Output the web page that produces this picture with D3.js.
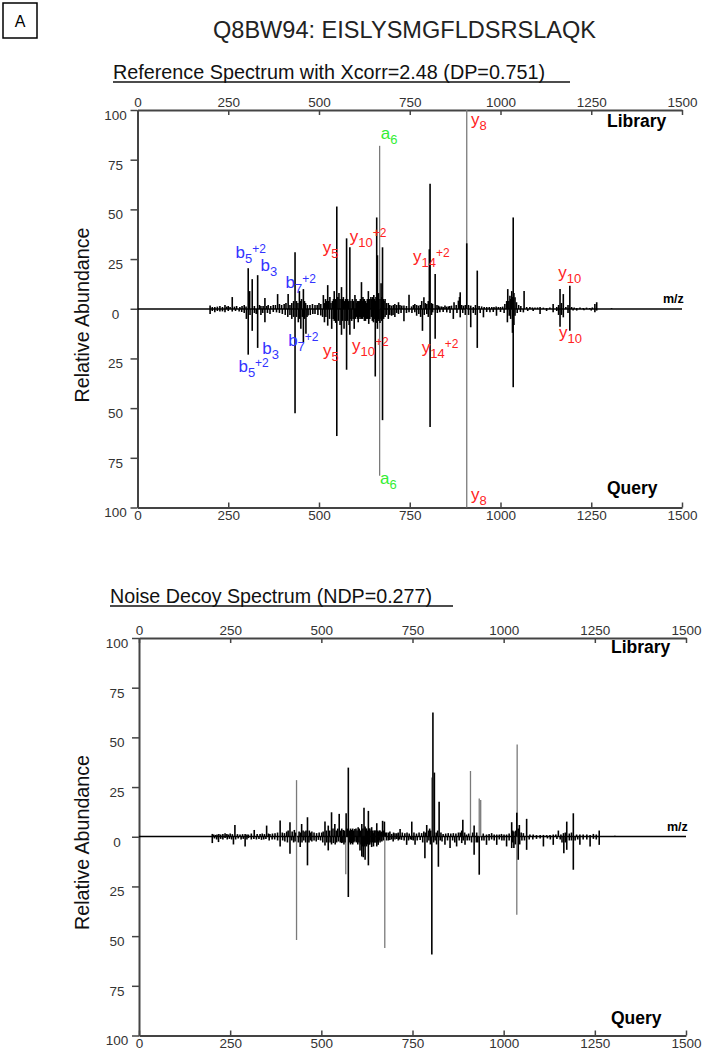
<!DOCTYPE html>
<html>
<head>
<meta charset="utf-8">
<script src="https://cdn.jsdelivr.net/npm/d3@7"></script>
<style>
body { margin: 0; background: #fff; }
svg { display: block; }
text { font-family: "Liberation Sans", Arial, sans-serif; }
</style>
</head>
<body>
<svg id="chart" width="702" height="1050"></svg>
<script>
// m/z axis and abundance ticks
var mzTicks = [0, 250, 500, 750, 1000, 1250, 1500];
var abTicks = [-100, -75, -50, -25, 0, 25, 50, 75, 100];

// ---- Reference spectrum: library (up) and query (down), [m/z, abundance]
var refLibrary = [
	[200,1.7],[206,1],[213,1],[220,1.2],[227,1.5],[234,1],[241,2],[246,1.2],[250,1.5],[255,1],[261,6],[267,1.2],
	[273,1.5],[282,1],[288,1.5],[294,2],[299,1.2],[305,20.5],
	[309,9],[316,15],[322,1.5],[331,17],[336,2],[340,1.5],[346,1.5],[351,5.5],[356,1.5],[360,2],[367,1.5],[374,2],
	[380,2],[386,7.5],[391,2.5],[397,2],[404,2.5],[409,3],
	[415,7.5],[420,2],[425,3],[430,4],[434,28.5],[438,4],[442,3],[446,9],[449,4],[452,5],[457,10],[460,4],[463,3],
	[468,2],[475,2],[482,2.5],[489,2],[495,2],
	[500,3],[505,2.5],[512,7],[515,3],[518,5],[521,4],[524,12],[527,4],[530,6],[533,3],[537,4],[540,5],[542,9],
	[546,5],[549,51.5],[552,6],[555,8],[558,5],[562,11],
	[564,5],[567,6],[570,4],[573,5],[576,35.5],[579,5],[582,4],[585,31],[588,4],[592,5],[595,4],[599,7],[602,5],
	[604,3],[606,4],[608,4],[610,3],[612,4],[614,5],[617,13.5],[619,4],[621,6],[623,5],
	[625,5],[628,4],[631,3],[633,5],[636,9],[638,4],[640,5],[643,6],[645,5],[648,6],[651,7],[653,5],[655,4],[657,6],
	[659,46],[661,27],[664,8],[668,5],[671,13],[673,6],[675,31],[677,5],[679,4],[682,5],[686,3],[691,3],[695,2],
	[700,1.7],[705,2],[709,2.5],[714,2],
	[719,3.4],[723,2],[728,1.7],[734,1.7],[741,1.5],[748,7.2],[755,1.3],[760,2],[764,2.5],[769,2],[774,1.7],[779,2],
	[783,4],[789,5.9],[793,3],
	[797,2.5],[801,4],[804,30],[806,63],[810,3],[813,2.5],[820,17.6],[825,2],[829,1.7],[833,1.3],[838,1.3],[842,1],
	[847,1.7],[851,1.2],[856,1.3],[860,1.5],
	[865,1.7],[872,3.4],[878,2],[884,4.2],[887,6],[889,8.4],[893,2],[898,1.7],[903,2],[907,33],[912,2],[918,1.7],
	[925,1],[931,2],[936,19.3],[941,1.5],
	[948,1.3],[955,1],[962,1],[969,1],[976,1],[982,1],[988,1.3],[994,1],[1000,1],[1006,1.2],[1012,2.5],[1017,4],
	[1020,10],[1023,4],[1026,6.7],[1028,5],[1031,9],[1033,6],
	[1035,46],[1037,8],[1040,5.9],[1044,3.4],[1050,2],[1056,1.5],[1065,9],[1072,1],[1081,1],[1088,0.8],[1095,0.7],
	[1102,0.8],[1109,1],[1118,0.7],[1127,0.5],[1136,0.8],[1145,2.5],
	[1155,1],[1160,2],[1164,10],[1168,3],[1173,7.5],[1180,1],[1186,2],[1191,11.7],[1196,1],[1203,0.8],[1210,0.5],
	[1219,0.7],[1228,0.5],[1237,0.7],[1246,0.5],[1253,0.8],[1260,2.5],
	[1265,3.4],[1306,0.4]
];
var refLibraryFaint = [[667,82],[907,100]];

var refQuery = [
	[200,2.5],[206,1],[213,1.7],[220,1],[227,1.3],[234,1.2],[241,1.7],[250,1],[261,1.3],[270,1],[280,1.2],[287,1.5],
	[294,2],[300,5],[305,23],[310,3],[316,11],[322,2],[327,2.5],[331,19.6],
	[340,3],[345,2],[351,6.7],[358,2],[365,2.5],[374,1.5],[383,1.7],[391,2],[399,2.5],[407,3],[414,4],[420,3],
	[425,5],[430,4],[434,52.5],[438,4],[443,6.7],[447,5],[450,10],
	[454,4],[457,16.7],[460,5],[464,12.5],[467,4],[470,3.3],[476,3],[483,2.5],[489,2.5],[497,3],[505,3.3],[510,4],
	[515,6.7],[519,4],[524,8.4],[529,5],[535,10],[539,5],[542,6],[546,7],
	[549,64],[553,6],[558,8],[562,13],[565,6],[569,10],[572,6],[576,30.6],[579,6],[583,8],[585,13],[588,5],[590,6],
	[594,5],[597,10],[600,5],[604,4],[606,5],
	[608,6.7],[611,4],[613,5],[615,4],[617,5],[620,5],[622,4],[625,6],[628,6],[631,5],[633,5],[635,4],[637,7.5],
	[640,5],[644,4],[647,6],[650,6.7],[652,5],[655,34],[658,7],
	[661,10],[663,5],[665,6],[668,7],[671,5],[673,6],[675,56],[678,5],[682,4],[686,3],[691,5],[695,3],[700,3.4],
	[704,3],[709,4],[714,2],[719,2.5],[726,2],[734,6.2],
	[741,2],[748,1.7],[756,2],[764,1.7],[769,3.4],[775,2.5],[780,4],[785,11],[790,3],[797,2.5],[801,4],[806,59.5],
	[810,3],[813,1.7],[820,15],[826,2],[833,1.7],
	[842,1.5],[852,1.7],[861,2],[870,5],[880,2],[889,4.2],[896,2],[903,3],[912,3],[918,9.2],[925,2],[931,3],
	[936,19.6],[944,2],[953,4.2],[962,1.5],[971,1.7],[980,1.5],[989,3.4],[1000,1.5],[1010,2],[1019,6.7],
	[1024,3.4],[1028,5],[1033,12],[1035,39.4],[1037,8],[1040,3.4],[1046,2],[1055,1.5],[1063,1.7],[1075,1],
	[1090,1],[1109,2.5],[1127,1],[1145,1.7],[1155,1],[1160,3],[1164,8.9],[1168,3],
	[1173,4.2],[1186,2],[1191,11],[1200,0.8],[1210,0.8],[1230,0.6],[1250,0.8],[1260,1.7],[1265,0.8]
];
var refQueryFaint = [[667,84],[907,100]];

// ion annotations: [ion, subscript, superscript, m/z, abundance]
var refIonsUp = [
	["b","5","+2",270,25.6],["b","3","",339,19.3],["b","7","+2",408,10.6],["y","5","",510,28],
	["y","10","+2",585,33.9],["a","6","",670,85.4],["y","8","",919,92.5],["y","14","+2",759,23.6],
	["y","10","",1159,15.6]
];
var refIonsDown = [
	["b","5","+2",278,31.6],["b","3","",344,22.6],["b","7","+2",415,18.6],["y","5","",511,23.6],
	["y","10","+2",591,21.1],["y","14","+2",783,22.1],["y","10","",1161,14.6],["a","6","",668,88],
	["y","8","",919,96]
];

// ---- Noise decoy spectrum
var decoyLibrary = [
	[201,1.3],[205,1],[210,0.8],[214,1],[219,1.3],[224,1],[230,1.2],[236,1.7],[241,1.2],[245,1],[250,1.5],[256,1.2],
	[263,5.8],[270,1.2],[277,1],[284,1.2],[291,1.3],[296,1],[300,1],[308,1.5],[316,3.3],[324,1.2],
	[332,1.3],[338,1.5],[344,1.2],[350,5.5],[355,1.5],[359,1.3],[366,1.5],[373,1.7],[380,2],[387,8],[393,2],
	[399,1.7],[405,2.5],[409,3],[414,7.2],[420,2.5],[426,3.3],[429,2],[439,2.5],
	[443,2],[446,6.3],[450,3],[455,2.5],[458,3],[462,9.7],[467,3],[470,2],[474,2.5],[480,2],[487,1.7],[494,2],
	[501,2],[505,2.5],[510,7.5],[514,3],[519,5.5],[523,3],[528,12.2],[532,4],[537,6.3],[541,3],[545,4],
	[549,11.4],[553,3],[556,4],[560,3.3],[564,3],[568,11.7],[571,4],[574,34.7],[578,3],[580,4],[583,3.3],
	[586,4],[589,3],[592,3.8],[595,4],[598,3],[601,4.7],[604,4],[607,3],[611,6.3],[614,4],[617,14.5],
	[620,5],[622,4],[624,4],[626,3],[629,12.9],[631,4],[633,4],[636,3],[638,4.7],[641,3],[643,1.7],[645,3],[647,3],
	[650,3],[652,6.7],[654,3],[656,2.5],[659,3],[661,3],[663,2],
	[665,2.5],[668,7.9],[670,3],[673,7.5],[676,2],[679,2],[684,2],[688,2.5],[693,1.3],[698,2],[702,1.7],[707,1.7],
	[711,2],[716,3.8],[722,2],
	[729,1.7],[735,2],[741,1.5],[748,7.5],[754,2],[761,1.5],[768,2],[775,1.7],[781,2.5],[785,2],[789,5.8],[794,3],
	[797,4],[800,3],[806,62.5],[810,32.2],[815,2],[819,3],[823,17.5],[828,2],[834,1.3],
	[841,1.5],[848,1.7],[855,1.5],[862,1.7],[869,1.5],[876,2],[881,2],[885,3],[888,8.4],[893,2],[898,1],[904,1.5],
	[915,2],[919,5.5],[926,2],[944,1.5],[953,1],[960,1.2],[967,1.7],[974,1],[981,1],[988,1],[994,1.3],
	[1001,1],[1008,1],[1015,1.5],[1022,7.2],[1025,3],[1028,2.5],[1033,3],[1036,12],[1040,4],[1043,5.8],[1048,2],
	[1054,1.7],[1063,8.9],[1072,1],[1081,1],[1090,0.7],[1100,0.7],
	[1109,0.8],[1118,0.7],[1127,0.8],[1136,1],[1143,1],[1150,3],[1157,1],[1164,1.7],[1169,2],[1173,7.5],[1180,1.5],
	[1186,2],[1191,11.7],[1200,1],[1209,1],[1218,1],[1228,1],[1237,0.8],[1246,1.3],[1254,1],
	[1262,3],[1305,0.4]
];
var decoyLibraryFaint = [[432,28.4],[803,29.7],[909,33],[933,19.2],[937,18.4],[1037,46.3]];

var decoyQuery = [
	[201,3.3],[207,1],[213,1.5],[218,2.8],[224,1.2],[230,1.5],[236,0.8],[242,1.5],[248,1.2],[254,1.5],[259,4],
	[265,1.5],[272,1],[280,1.5],[286,1.2],[291,5],[296,1.5],[300,0.8],[308,1.5],[315,1.2],[322,1.5],[329,1.2],
	[336,1.7],[342,1.5],[348,1.2],[357,2],[365,1.5],[372,1.5],[380,2],[387,5],[394,2],[400,2.5],[407,3],[414,8.7],
	[419,2],[424,3],[428,2.5],[437,3],
	[442,5.3],[447,3],[452,2],[457,3],[462,14.5],[466,3],[470,2],[474,2.5],[480,2],[486,2.5],[492,1.7],[498,2],
	[504,3],[510,4.5],[515,3],[519,7],[524,3],[528,4],[533,3.3],[538,4],[542,3],[547,2.5],[552,3],[556,3.3],
	[559,3],[562,4],[565,3],
	[574,30.4],[577,3],[580,4],[583,3.3],[586,4],[589,3],[592,2.5],[596,3],[600,4],[603,3],[606,7],[609,4],
	[611,10],[613,5],[615,10.4],[618,5],[620,11.7],[622,4],[624,5],[626,4],[629,14.5],[631,4],
	[633,4],[636,3],[638,5.3],[641,3],[643,5],[645,3],[647,3],[650,3],[652,5],[654,3],[656,4.2],[659,2],[661,3],
	[664,2],[666,2.5],[670,2],[679,2],[684,2],[688,1.7],[693,1.5],[697,2.5],[702,1.5],
	[707,1.3],[711,2],[715,1.5],[720,1.7],[727,2],[734,4.2],[739,2],[744,1.5],[748,1.7],[752,2],[757,4.2],[763,2],
	[771,1.7],[778,3],[784,10.9],[790,3],[795,2],[799,4],
	[803,59.3],[808,3],[812,2],[816,4],[821,15.2],[826,2],[831,2.5],[839,4.2],[846,2],[853,5.8],[860,2],[866,3],
	[871,5],[878,2],[885,3.3],[889,2],[894,4.2],[900,2],[906,2],[912,3],[919,9.2],[925,3],[929,3],[933,19.2],
	[940,2],[946,2],[953,4.2],[960,2],[967,1.5],[974,2],[981,4.2],[988,1.5],[995,2],[1001,2],[1008,5],[1015,2],
	[1022,5.8],[1025,3],[1028,5.8],[1032,4],[1040,11.7],[1044,4],[1050,2],[1057,2],[1063,6.7],[1070,1.5],
	[1080,1.5],[1090,1.2],[1100,1],[1109,5],[1120,1],[1128,1.5],[1136,4.2],[1146,1.2],[1155,1.5],[1160,3],
	[1165,8.4],[1169,3],[1173,6.7],[1180,2],[1186,2],[1191,16.7],[1196,2],[1203,1.5],
	[1209,4.2],[1218,1.5],[1228,1.5],[1237,5],[1246,1.2],[1254,1.5],[1262,4.2]
];
var decoyQueryFaint = [[432,52],[567,19],[674,56],[1036,39.3]];

var svg = d3.select("#chart");

// panel letter and title
svg.append("rect")
	.attr("x", 3).attr("y", 3).attr("width", 34).attr("height", 35)
	.attr("fill", "none").attr("stroke", "#000").attr("stroke-width", 1.5);
svg.append("text")
	.attr("x", 20).attr("y", 27).attr("text-anchor", "middle")
	.style("font-size", "16px").text("A");
svg.append("text")
	.attr("x", 213).attr("y", 38)
	.attr("textLength", 383).attr("lengthAdjust", "spacingAndGlyphs")
	.style("font-size", "23px").attr("fill", "#222")
	.text("Q8BW94: EISLYSMGFLDSRSLAQK");

var ionColor = { b: "#3333ff", y: "#ff2222", a: "#33ee33" };

function drawPanel(p) {
	var g = svg.append("g");

	var x = d3.scaleLinear().domain([0, 1500]).range([p.left, p.right]);
	var yUp = d3.scaleLinear().domain([0, 100]).range([p.zero, p.top]);
	var yDown = d3.scaleLinear().domain([0, 100]).range([p.zero, p.bottom]);
	var yAll = d3.scaleLinear().domain([-100, 100]).range([p.bottom, p.top]);

	// subtitle with underline
	g.append("text")
		.attr("x", p.subX).attr("y", p.subY)
		.attr("textLength", p.subLen).attr("lengthAdjust", "spacingAndGlyphs")
		.style("font-size", "19.5px").attr("fill", "#111")
		.text(p.subtitle);
	g.append("line")
		.attr("x1", p.subX).attr("x2", p.subEnd)
		.attr("y1", p.subY + 3).attr("y2", p.subY + 3)
		.attr("stroke", "#111").attr("stroke-width", 1.3);

	// axes
	var fmt = d3.format("d");
	var top = g.append("g").attr("transform", "translate(0," + p.top + ")")
		.call(d3.axisTop(x).tickValues(mzTicks).tickFormat(fmt)
			.tickSize(-5).tickSizeOuter(0).tickPadding(3));
	var bot = g.append("g").attr("transform", "translate(0," + p.bottom + ")")
		.call(d3.axisBottom(x).tickValues(mzTicks).tickFormat(fmt)
			.tickSize(-5).tickSizeOuter(0).tickPadding(3));
	var left = g.append("g").attr("transform", "translate(" + p.left + ",0)")
		.call(d3.axisLeft(yAll).tickValues(abTicks).tickSize(7).tickSizeOuter(0)
			.tickFormat(function(d) { return Math.abs(d); }));
	left.selectAll(".tick text")
		.attr("x", -22).attr("dy", "0.7em").attr("text-anchor", "middle");

	[top, bot, left].forEach(function(a) {
		a.select(".domain").attr("stroke", "#444").attr("stroke-width", 2);
		a.selectAll(".tick line").attr("stroke", "#444").attr("stroke-width", 1.5);
		a.selectAll(".tick text")
			.attr("fill", "#333")
			.style("font-size", "13.5px")
			.style("font-family", "'Liberation Sans', Arial, sans-serif");
	});

	// zero line
	g.append("line")
		.attr("x1", x(0)).attr("x2", x(1500))
		.attr("y1", p.zero).attr("y2", p.zero)
		.attr("stroke", "#000").attr("stroke-width", 1.6);

	function peaks(data, y, color, w) {
		g.append("g").selectAll("line").data(data).enter()
			.append("line")
			.attr("x1", function(d) { return x(d[0]); })
			.attr("x2", function(d) { return x(d[0]); })
			.attr("y1", y(0))
			.attr("y2", function(d) { return y(d[1]); })
			.attr("stroke", color)
			.attr("stroke-width", w);
	}
	peaks(p.libFaint, yUp, "#7a7a7a", 1.3);
	peaks(p.qryFaint, yDown, "#7a7a7a", 1.3);
	peaks(p.lib, yUp, "#000", 1.6);
	peaks(p.qry, yDown, "#000", 1.6);

	// ion labels
	function ions(data, y) {
		data.forEach(function(d) {
			var t = g.append("text")
				.attr("x", x(d[3])).attr("y", y(d[4]))
				.attr("fill", ionColor[d[0]])
				.style("font-size", "17px");
			t.append("tspan").text(d[0]);
			t.append("tspan").attr("dy", 5).style("font-size", "13px").text(d[1]);
			if (d[2]) {
				t.append("tspan").attr("dy", -10).style("font-size", "12px").text(d[2]);
			}
		});
	}
	if (p.ionsUp) ions(p.ionsUp, yUp);
	if (p.ionsDown) ions(p.ionsDown, yDown);

	// side labels
	g.append("text")
		.attr("x", p.right - 75).attr("y", p.top + p.libDy)
		.style("font-size", "17.5px").style("font-weight", "bold")
		.text("Library");
	g.append("text")
		.attr("x", p.right - 75).attr("y", p.bottom - p.qryDy)
		.style("font-size", "17.5px").style("font-weight", "bold")
		.text("Query");
	g.append("text")
		.attr("x", p.right - 19).attr("y", p.zero - 6)
		.style("font-size", "12.5px").style("font-weight", "bold")
		.text("m/z");

	g.append("text")
		.attr("transform", "translate(89," + (p.zero + 6) + ") rotate(-90)")
		.attr("text-anchor", "middle")
		.attr("textLength", 175).attr("lengthAdjust", "spacingAndGlyphs")
		.style("font-size", "19.5px").attr("fill", "#111")
		.text("Relative Abundance");
}

drawPanel({
	left: 137.5, right: 682, top: 110, zero: 309, bottom: 507.5,
	subtitle: "Reference Spectrum with Xcorr=2.48 (DP=0.751)",
	subX: 113, subY: 79, subLen: 432, subEnd: 570,
	lib: refLibrary, libFaint: refLibraryFaint,
	qry: refQuery, qryFaint: refQueryFaint,
	ionsUp: refIonsUp, ionsDown: refIonsDown,
	libDy: 17, qryDy: 14
});

drawPanel({
	left: 139, right: 686, top: 638, zero: 836.5, bottom: 1035.5,
	subtitle: "Noise Decoy Spectrum (NDP=0.277)",
	subX: 110, subY: 603, subLen: 322, subEnd: 453,
	lib: decoyLibrary, libFaint: decoyLibraryFaint,
	qry: decoyQuery, qryFaint: decoyQueryFaint,
	libDy: 15, qryDy: 12
});
</script>
</body>
</html>
